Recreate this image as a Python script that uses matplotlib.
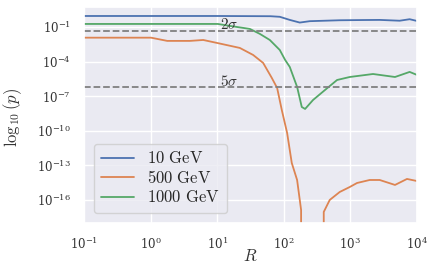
import numpy as np
import matplotlib
matplotlib.use('Agg')
import matplotlib.pyplot as plt
import seaborn as sns

# values (log10 R, log10 p)
logR_10 = [-1.0, 0.0, 1.0, 1.8, 1.94, 2.09, 2.24, 2.39, 2.84, 3.2, 3.44, 3.74, 3.89, 4.0]
logp_10 = [-0.05, -0.05, -0.05, -0.07, -0.12, -0.39, -0.62, -0.5, -0.42, -0.4, -0.39, -0.46, -0.33, -0.48]

logR_500 = [-1.0, 0.006, 0.25, 0.59, 0.79, 1.0, 1.34, 1.54, 1.69, 1.82, 1.90, 1.97, 2.05, 2.12, 2.20, 2.26,
            2.265, 2.595, 2.60, 2.69, 2.84, 2.99, 3.10, 3.29, 3.44, 3.67, 3.85, 4.0]
logp_500 = [-1.93, -1.93, -2.21, -2.21, -2.13, -2.39, -2.82, -3.43, -4.12, -5.42, -6.29, -8.2, -10.19, -12.8,
            -14.27, -16.87, None, None, -17.04, -16.0, -15.31, -14.88, -14.53, -14.27, -14.27, -14.7, -14.18, -14.36]

logR_1000 = [-1.0, 1.01, 1.19, 1.49, 1.64, 1.79, 1.94, 2.02, 2.09, 2.20, 2.27, 2.32, 2.44, 2.62, 2.80, 2.99,
             3.34, 3.67, 3.89, 4.0]
logp_1000 = [-0.74, -0.74, -0.91, -1.17, -1.6, -2.13, -3.0, -3.86, -4.47, -6.2, -7.94, -8.11, -7.33, -6.46,
             -5.6, -5.34, -5.08, -5.34, -4.9, -5.16]

p_2sigma = 0.0455
p_5sigma = 5.73e-7


def to_lin(lx, ly):
    x = 10 ** np.array(lx, dtype=float)
    y = np.array([0.0 if v is None else 10 ** v for v in ly])
    return x, y


sns.set_theme(style='darkgrid')
plt.rcParams['mathtext.fontset'] = 'cm'
plt.rcParams['font.family'] = ['DejaVu Serif']

fig = plt.figure(figsize=(4.33, 2.69), dpi=100)
ax = fig.add_axes([0.194, 0.171, 0.769, 0.803])

x, y = to_lin(logR_10, logp_10)
ax.plot(x, y, label=r'$\mathrm{10\ GeV}$', lw=1.3)
x, y = to_lin(logR_500, logp_500)
ax.plot(x, y, label=r'$\mathrm{500\ GeV}$', lw=1.3)
x, y = to_lin(logR_1000, logp_1000)
ax.plot(x, y, label=r'$\mathrm{1000\ GeV}$', lw=1.3)

ax.axhline(p_2sigma, color='grey', ls='--', lw=1.3)
ax.axhline(p_5sigma, color='grey', ls='--', lw=1.3)
ax.text(11, p_2sigma * 1.4, r'$2\sigma$', fontsize=11, color='#333333')
ax.text(11, p_5sigma * 1.4, r'$5\sigma$', fontsize=11, color='#333333')

ax.set_xscale('log')
ax.set_yscale('log')
ax.set_xlim(0.1, 1e4)
ax.set_ylim(1e-18, 10 ** 0.73)
ax.set_yticks([1e-16, 1e-13, 1e-10, 1e-7, 1e-4, 1e-1])
ax.minorticks_off()
ax.tick_params(labelsize=8.5, colors='#333333')

ax.set_xlabel(r'$R$', fontsize=12, color='#333333')
ax.set_ylabel(r'$\log_{10}(p)$', fontsize=12, color='#333333')
ax.xaxis.set_label_coords(0.5, -0.115)
ax.yaxis.set_label_coords(-0.18, 0.49)

ax.legend(loc='lower left', fontsize=12, handlelength=2.0, labelspacing=0.15,
          borderaxespad=0.6)

fig.savefig('out.png', dpi=100)
